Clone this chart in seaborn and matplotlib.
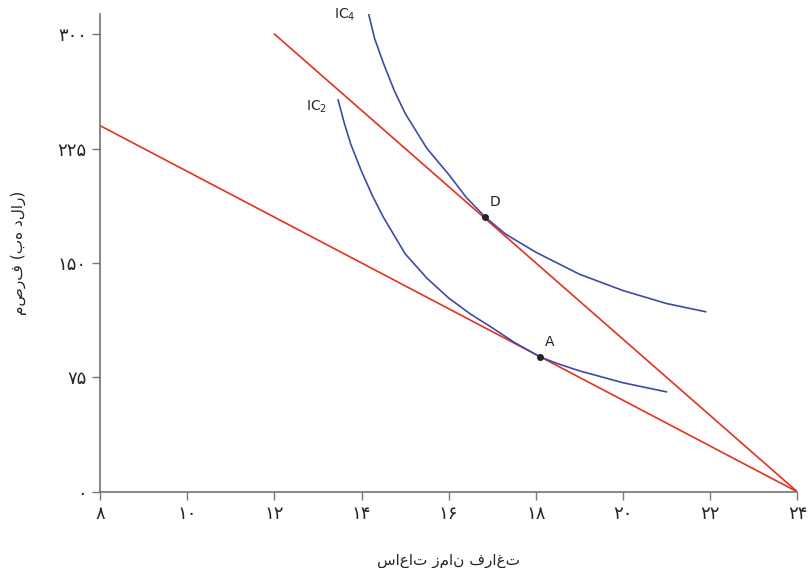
import matplotlib
matplotlib.use("Agg")
import matplotlib.pyplot as plt
import seaborn as sns

sns.set_theme(style="white")
plt.rcParams['font.family'] = ['DejaVu Sans']

budget1_x = [8, 24]
budget1_y = [240, 0]
budget2_x = [12, 24]
budget2_y = [300, 0]
ic2_x = [13.46, 13.6, 13.75, 14, 14.25, 14.5, 15, 15.5, 16, 16.5, 17, 17.5, 18.1, 18.5, 19, 20, 21]
ic2_y = [257, 242, 228, 210, 194, 180, 156, 140, 127, 116.5, 107.5, 98, 88.4, 84, 79.3, 71.5, 65.5]
ic4_x = [14.13, 14.3, 14.5, 14.75, 15, 15.5, 16, 16.4, 16.84, 17.3, 18, 19, 20, 21, 21.9]
ic4_y = [317, 297, 281, 263, 248, 225, 208, 193, 180, 169, 157, 142.6, 131.9, 123.4, 118]
pts_x = [18.1, 16.84]
pts_y = [88.4, 180]
pts_lab = ["A", "D"]
xticks = [8, 10, 12, 14, 16, 18, 20, 22, 24]
xtick_labels = ["۸", "۱۰", "۱۲", "۱۴", "۱۶", "۱۸", "۲۰", "۲۲", "۲۴"]
yticks = [0, 75, 150, 225, 300]
ytick_labels = ["۰", "۷۵", "۱۵۰", "۲۲۵", "۳۰۰"]
xlabel = "ساعات زمان فراغت"
ylabel = "مصرف (به دلار)"

fig = plt.figure(figsize=(8.1, 5.68), dpi=100)
ax = fig.add_axes([0.1235, 0.134, 0.861, 0.841])
red = "#e8301c"; blue = "#3c4ba8"
sns.lineplot(x=budget1_x, y=budget1_y, ax=ax, color=red, lw=1.2)
sns.lineplot(x=budget2_x, y=budget2_y, ax=ax, color=red, lw=1.2)
sns.lineplot(x=ic2_x, y=ic2_y, ax=ax, color=blue, lw=1.2, sort=False)
sns.lineplot(x=ic4_x, y=ic4_y, ax=ax, color=blue, lw=1.2, sort=False)
ax.scatter(pts_x, pts_y, color="#222222", s=16, zorder=5)
for x, y, l in zip(pts_x, pts_y, pts_lab):
    ax.text(x + 0.1, y + 7, l, fontsize=10, color="#222222")
ax.text(13.2, 250, "IC$_2$", fontsize=10, ha="right")
ax.text(13.85, 310, "IC$_4$", fontsize=10, ha="right")

ax.set_xlim(8, 24)
ax.set_ylim(0, 313)
ax.set_xticks(xticks)
ax.set_xticklabels(xtick_labels, fontsize=13)
ax.set_yticks(yticks)
ax.set_yticklabels(ytick_labels, fontsize=13)
ax.tick_params(direction="out", length=6, color="#777777", width=1, left=True, bottom=True)
for s in ["top", "right"]:
    ax.spines[s].set_visible(False)
for s in ["left", "bottom"]:
    ax.spines[s].set_color("#777777")
ax.set_xlabel(xlabel, fontsize=11, labelpad=22)
ax.set_ylabel(ylabel, fontsize=11, labelpad=22)
fig.savefig("out.png", dpi=100)
